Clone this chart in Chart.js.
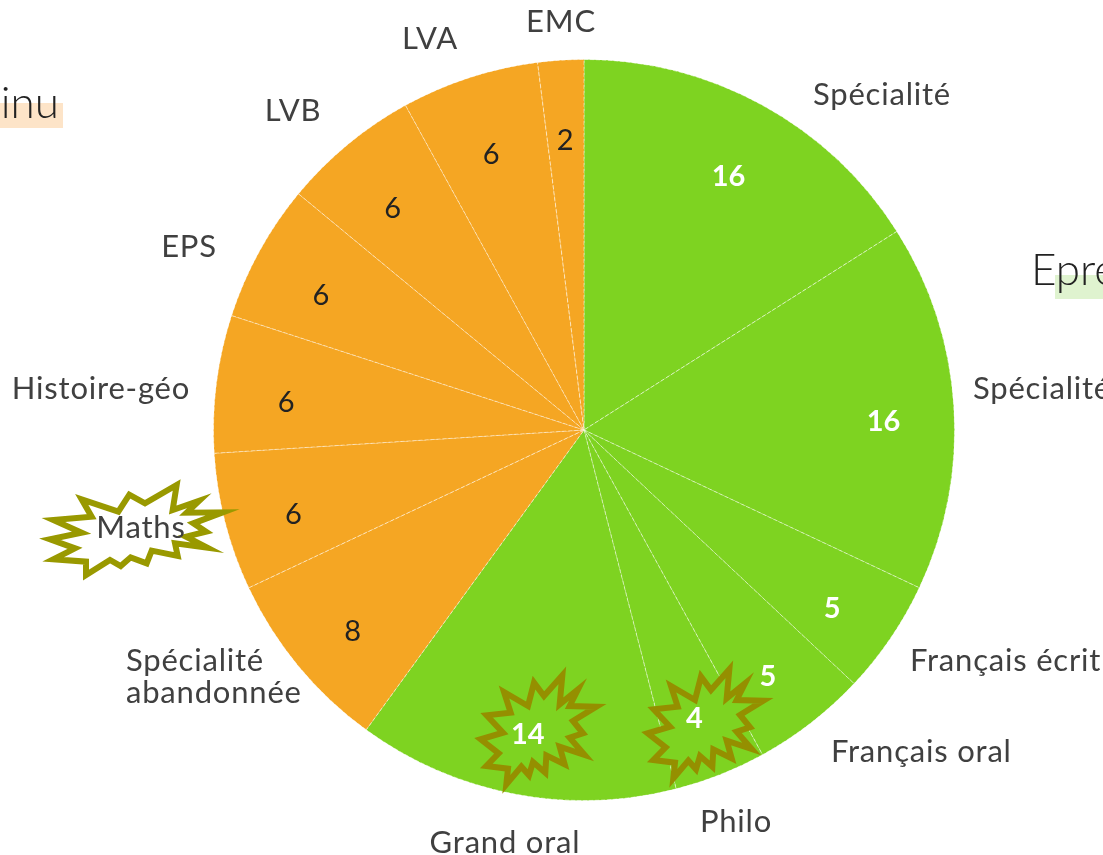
<!DOCTYPE html>
<html>
<head>
<meta charset="utf-8">
<title>Coefficients du bac</title>
<script src="https://cdn.jsdelivr.net/npm/chart.js@4"></script>
<style>
  html, body { margin: 0; padding: 0; background: #fff; overflow: hidden; }
  #wrap { position: relative; width: 1103px; height: 855px; overflow: hidden; }
  canvas { position: absolute; left: 0; top: 0; filter: blur(0.4px); }
  .band { position: absolute; }
  .head { position: absolute; font-family: Lato, sans-serif; font-size: 44px; font-weight: 300; color: #222; line-height: 1; white-space: nowrap; filter: blur(0.4px); }
</style>
</head>
<body>
<div id="wrap">
  <div class="band" style="left:0;top:103px;width:63px;height:25px;background:#fde4c8"></div>
  <div class="band" style="left:1055px;top:275px;width:48px;height:24px;background:#dff3cf"></div>
  <div class="head" style="right:1044px;top:79px">inu</div>
  <div class="head" style="left:1031px;top:246px">Epre</div>
  <canvas id="chart" width="1103" height="855"></canvas>
</div>
<script>
const categories = ['Spécialité', 'Spécialité', 'Français écrit', 'Français oral', 'Philo', 'Grand oral',
  'Spécialité abandonnée', 'Maths', 'Histoire-géo', 'EPS', 'LVB', 'LVA', 'EMC'];
const coefficients = [16, 16, 5, 5, 4, 14, 8, 6, 6, 6, 6, 6, 2];
const finalExamCount = 6; // the first six slices are the green ones

const GREEN = '#7ed321';
const ORANGE = '#f5a623';
const sliceColors = coefficients.map((v, i) => i < finalExamCount ? GREEN : ORANGE);

// where the names sit around the pie: [x, y, align]
const namePlaces = [
  [882, 95, 'center'], [973, 389, 'left'], [910, 661, 'left'], [831, 752, 'left'],
  [736, 822, 'center'], [505, 843, 'center'], [126, 677, 'left'], [141, 528, 'center'],
  [101, 389, 'center'], [189, 247, 'center'], [293, 111, 'center'], [430, 39, 'center'], [561, 22, 'center']
];

// hand drawn bursts, traced from the page (offset + points at 3x)
const burst = (ox, oy, pts) => pts.map(([x, y]) => [ox + x / 3, oy + y / 3]);
const mathsShape = [[668,157],[580,190],[618,215],[558,230],[622,263],[525,250],[533,288],[455,272],[440,310],[392,292],[362,318],[330,300],[258,345],[258,305],[160,298],[225,265],[150,238],[245,218],[160,180],[275,170],[245,118],[355,155],[388,104],[435,130],[530,75],[518,150],[598,122],[560,158]];
const greenShape = [[385,152],[315,195],[345,232],[305,245],[350,297],[275,272],[290,325],[235,298],[232,350],[195,318],[183,358],[160,332],[115,385],[120,338],[55,330],[92,292],[38,250],[105,230],[56,178],[128,170],[108,108],[180,150],[198,80],[228,120],[283,58],[275,145],[330,100],[305,150]];
const bursts = [
  { fill: '#fff', stroke: '#999900', pts: burst(0, 460, mathsShape) },
  { fill: GREEN, stroke: '#958f00', pts: burst(468, 656, greenShape) },
  { fill: GREEN, stroke: '#958f00', pts: burst(635, 650, greenShape) }
];

const pieNotes = {
  id: 'pieNotes',
  afterDatasetsDraw(chart) {
    const ctx = chart.ctx;
    const arcs = chart.getDatasetMeta(0).data;
    ctx.save();

    bursts.forEach(b => {
      ctx.beginPath();
      b.pts.forEach(([x, y], i) => i ? ctx.lineTo(x, y) : ctx.moveTo(x, y));
      ctx.closePath();
      ctx.fillStyle = b.fill;
      ctx.fill();
      ctx.lineWidth = 6;
      ctx.lineJoin = 'miter';
      ctx.strokeStyle = b.stroke;
      ctx.stroke();
    });

    // values inside the slices
    ctx.textBaseline = 'middle';
    ctx.textAlign = 'center';
    arcs.forEach((arc, i) => {
      const mid = (arc.startAngle + arc.endAngle) / 2;
      const r = arc.outerRadius * 0.81;
      const green = i < finalExamCount;
      ctx.font = (green ? 'bold ' : '') + '29px Lato, sans-serif';
      ctx.fillStyle = green ? '#fff' : '#222';
      ctx.fillText(coefficients[i], arc.x + Math.cos(mid) * r, arc.y + Math.sin(mid) * r + 10);
    });

    // names around the pie
    ctx.font = '31px Lato, sans-serif';
    ctx.letterSpacing = '0.8px';
    ctx.fillStyle = '#404040';
    categories.forEach((name, i) => {
      const [x, y, align] = namePlaces[i];
      ctx.textAlign = align;
      if (name === 'Spécialité abandonnée') {
        ctx.fillText('Spécialité', x, y - 16);
        ctx.fillText('abandonnée', x, y + 16);
      } else {
        ctx.fillText(name, x, y);
      }
    });
    ctx.restore();
  }
};

new Chart(document.getElementById('chart'), {
  type: 'pie',
  data: {
    labels: categories,
    datasets: [{
      data: coefficients,
      backgroundColor: sliceColors,
      borderColor: 'rgba(255,255,255,0.5)',
      borderWidth: 1,
      borderDash: [4, 2],
      hoverOffset: 0
    }]
  },
  options: {
    responsive: false,
    animation: false,
    layout: { padding: { left: 213, right: 148, top: 59, bottom: 54 } },
    plugins: { legend: { display: false }, tooltip: { enabled: false } }
  },
  plugins: [pieNotes]
});
</script>
</body>
</html>
